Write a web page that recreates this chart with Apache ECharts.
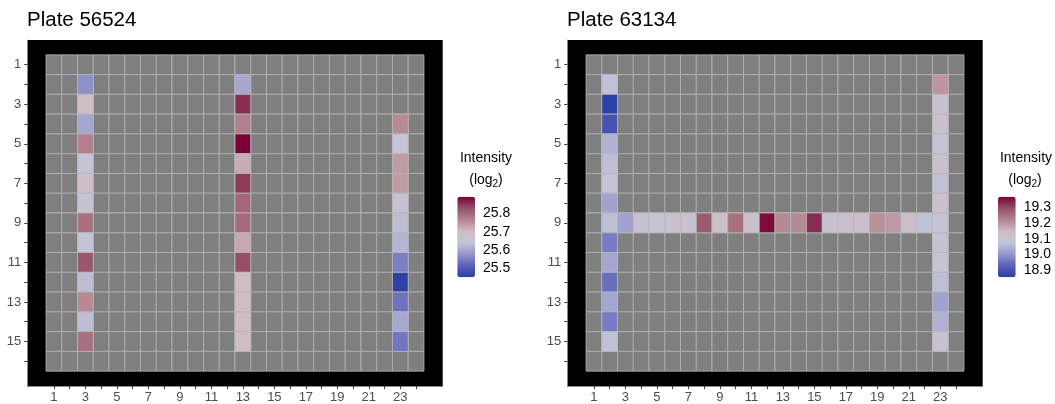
<!DOCTYPE html>
<html>
<head>
<meta charset="utf-8">
<script src="https://cdn.jsdelivr.net/npm/echarts@6/dist/echarts.min.js"></script>
<style>
html,body{margin:0;padding:0;background:#fff;}
#chart{width:1055px;height:404px;}
</style>
</head>
<body>
<div id="chart"></div>
<script>
// ---- plate geometry (data) ----
const plateCols = Array.from({length: 24}, (_, i) => i + 1);
const plateRows = Array.from({length: 16}, (_, i) => i + 1);
const colTickLabels = [1, 3, 5, 7, 9, 11, 13, 15, 17, 19, 21, 23];
const rowTickLabels = [1, 3, 5, 7, 9, 11, 13, 15];

// ---- Plate 56524 (rows 2..15) ----
const p1Rows = [2, 3, 4, 5, 6, 7, 8, 9, 10, 11, 12, 13, 14, 15];
const p1Col3  = [25.57, 25.69, 25.60, 25.77, 25.65, 25.68, 25.66, 25.79, 25.64, 25.82, 25.63, 25.76, 25.63, 25.79];
const p1Col13 = [25.60, 25.855, 25.77, 25.89, 25.72, 25.845, 25.80, 25.795, 25.725, 25.83, 25.70, 25.70, 25.70, 25.695];
const p1Col23Rows = [4, 5, 6, 7, 8, 9, 10, 11, 12, 13, 14, 15];
const p1Col23 = [25.76, 25.65, 25.74, 25.74, 25.66, 25.63, 25.62, 25.55, 25.455, 25.535, 25.60, 25.54];
const p1Range = [25.451, 25.891];
const p1LegendTicks = [25.5, 25.6, 25.7, 25.8];

// ---- Plate 63134 ----
const p2Col2Rows = [2, 3, 4, 5, 6, 7, 8, 9, 10, 11, 12, 13, 14, 15];
const p2Col2  = [19.07, 18.855, 18.895, 19.045, 19.065, 19.09, 19.02, 19.065, 18.965, 19.025, 18.945, 19.025, 18.965, 19.07];
const p2Row9Cols = [3, 4, 5, 6, 7, 8, 9, 10, 11, 12, 13, 14, 15, 16, 17, 18, 19, 20, 21, 22];
const p2Row9 = [19.02, 19.10, 19.08, 19.11, 19.11, 19.28, 19.12, 19.25, 19.12, 19.36, 19.215, 19.215, 19.33, 19.095, 19.12, 19.12, 19.205, 19.195, 19.12, 19.07];
const p2Col23Rows = [2, 3, 4, 5, 6, 7, 8, 9, 10, 11, 12, 13, 14, 15];
const p2Col23 = [19.20, 19.10, 19.11, 19.08, 19.11, 19.07, 19.11, 19.09, 19.10, 19.08, 19.065, 19.02, 19.045, 19.10];
const p2Range = [18.852, 19.37];
const p2LegendTicks = [18.9, 19.0, 19.1, 19.2, 19.3];

const ramp = ['#2a3fa6', '#5a60b8', '#9496cc', '#c4c4d8', '#d0bcc4', '#b4848f', '#955068', '#7a0038'];

// ---- build series data ----
const allCells = [];
plateRows.forEach(r => plateCols.forEach(c => allCells.push([c, r])));

const p1Data = [];
p1Rows.forEach((r, i) => { p1Data.push([3, r, p1Col3[i]]); p1Data.push([13, r, p1Col13[i]]); });
p1Col23Rows.forEach((r, i) => p1Data.push([23, r, p1Col23[i]]));

const p2Data = [];
p2Col2Rows.forEach((r, i) => p2Data.push([2, r, p2Col2[i]]));
p2Row9Cols.forEach((c, i) => p2Data.push([c, 9, p2Row9[i]]));
p2Col23Rows.forEach((r, i) => p2Data.push([23, r, p2Col23[i]]));

function makeCell(fixedFill) {
  return function (params, api) {
    const x = api.value(0), y = api.value(1);
    const a = api.coord([x - 0.5, y - 0.5]);
    const b = api.coord([x + 0.5, y + 0.5]);
    return {
      type: 'rect',
      shape: {
        x: Math.min(a[0], b[0]), y: Math.min(a[1], b[1]),
        width: Math.abs(b[0] - a[0]), height: Math.abs(b[1] - a[1])
      },
      style: { fill: fixedFill || api.visual('color'), stroke: '#b8b8b8', lineWidth: 0.8 }
    };
  };
}

const FONT = "'Liberation Sans', Arial, Helvetica, sans-serif";

function plateX(gi) {
  return {
    type: 'value', gridIndex: gi, min: -0.69, max: 25.69, position: 'bottom',
    axisLine: { show: true, onZero: false, lineStyle: { color: '#888', width: 1 } },
    axisTick: { show: true, length: 3, customValues: plateCols, lineStyle: { color: '#333' } },
    axisLabel: { customValues: colTickLabels, color: '#4d4d4d', fontSize: 13, fontFamily: FONT, margin: 5 },
    splitLine: { show: false }
  };
}
function plateY(gi) {
  return {
    type: 'value', gridIndex: gi, min: -0.25, max: 17.25, inverse: true, position: 'left',
    axisLine: { show: true, onZero: false, lineStyle: { color: '#888', width: 1 } },
    axisTick: { show: true, length: 3, customValues: plateRows, lineStyle: { color: '#333' } },
    axisLabel: { customValues: rowTickLabels, color: '#4d4d4d', fontSize: 13, fontFamily: FONT, margin: 6 },
    splitLine: { show: false }
  };
}
function legendY(gi, range, ticks) {
  return {
    type: 'value', gridIndex: gi, min: range[0], max: range[1], position: 'right',
    axisLine: { show: false }, axisTick: { show: false }, splitLine: { show: false },
    axisLabel: { customValues: ticks, formatter: v => v.toFixed(1), color: '#000', fontSize: 14, fontFamily: FONT, margin: 8 }
  };
}

const richLog = {
  a: { fontSize: 14, fontWeight: 'normal', fontFamily: FONT, color: '#000' },
  s: { fontSize: 10, fontWeight: 'normal', fontFamily: FONT, color: '#000', padding: [8, 0, 0, 0] }
};

const option = {
  animation: false,
  backgroundColor: '#fff',
  title: [
    { text: 'Plate 56524', left: 27, top: 10, padding: 0, textStyle: { fontSize: 20.5, fontWeight: 'normal', color: '#000', fontFamily: FONT } },
    { text: 'Plate 63134', left: 567, top: 10, padding: 0, textStyle: { fontSize: 20.5, fontWeight: 'normal', color: '#000', fontFamily: FONT } },
    { text: 'Intensity', left: 486, top: 151, padding: 0, textAlign: 'center', textStyle: { fontSize: 14, fontWeight: 'normal', color: '#000', fontFamily: FONT } },
    { text: '{a|(log}{s|2}{a|)}', left: 486, top: 171, padding: 0, textAlign: 'center', textStyle: { fontWeight: 'normal', rich: richLog } },
    { text: 'Intensity', left: 1026, top: 151, padding: 0, textAlign: 'center', textStyle: { fontSize: 14, fontWeight: 'normal', color: '#000', fontFamily: FONT } },
    { text: '{a|(log}{s|2}{a|)}', left: 1025, top: 171, padding: 0, textAlign: 'center', textStyle: { fontWeight: 'normal', rich: richLog } }
  ],
  grid: [
    { left: 27.3, top: 40, width: 415.4, height: 349, show: true, backgroundColor: '#000', borderWidth: 0 },
    { left: 567.3, top: 40, width: 415.4, height: 349, show: true, backgroundColor: '#000', borderWidth: 0 },
    { left: 457.3, top: 196.7, width: 17.7, height: 80.6 },
    { left: 998, top: 196.7, width: 17.7, height: 80.6 }
  ],
  xAxis: [plateX(0), plateX(1),
    { type: 'value', gridIndex: 2, show: false }, { type: 'value', gridIndex: 3, show: false }],
  yAxis: [plateY(0), plateY(1), legendY(2, p1Range, p1LegendTicks), legendY(3, p2Range, p2LegendTicks)],
  visualMap: [
    { type: 'continuous', seriesIndex: 1, dimension: 2, min: p1Range[0], max: p1Range[1],
      left: 457.3, top: 196.7, itemWidth: 17.7, itemHeight: 80.6, padding: 0, calculable: false,
      hoverLink: false, inRange: { color: ramp } },
    { type: 'continuous', seriesIndex: 3, dimension: 2, min: p2Range[0], max: p2Range[1],
      left: 998, top: 196.7, itemWidth: 17.7, itemHeight: 80.6, padding: 0, calculable: false,
      hoverLink: false, inRange: { color: ramp } }
  ],
  series: [
    { type: 'custom', xAxisIndex: 0, yAxisIndex: 0, data: allCells, renderItem: makeCell('#7f7f7f'), silent: true },
    { type: 'custom', xAxisIndex: 0, yAxisIndex: 0, data: p1Data, renderItem: makeCell(null), silent: true },
    { type: 'custom', xAxisIndex: 1, yAxisIndex: 1, data: allCells, renderItem: makeCell('#7f7f7f'), silent: true },
    { type: 'custom', xAxisIndex: 1, yAxisIndex: 1, data: p2Data, renderItem: makeCell(null), silent: true }
  ]
};

const chart = echarts.init(document.getElementById('chart'), null, { renderer: 'canvas' });
chart.setOption(option);
</script>
</body>
</html>
